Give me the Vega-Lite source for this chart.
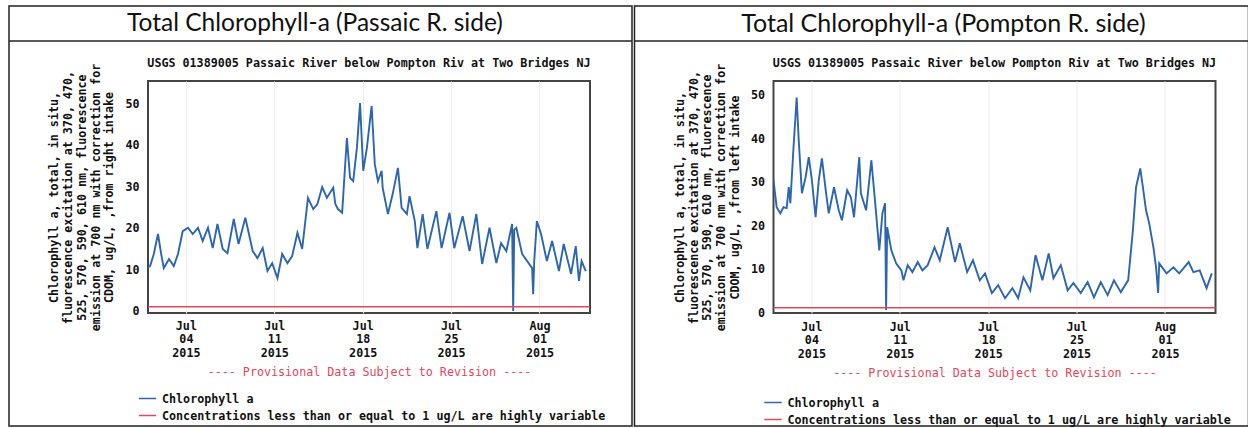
{
  "$schema": "https://vega.github.io/schema/vega-lite/v6.json",
  "padding": {"left": 7, "top": 4, "right": 0, "bottom": 0},
  "background": "white",
  "spacing": -1.5,
  "config": {
    "view": {"stroke": "#444", "strokeWidth": 2},
    "font": "DejaVu Sans Mono"
  },
  "resolve": {"scale": {"x": "independent", "y": "independent", "color": "independent"}, "legend": {"color": "independent"}},
  "datasets": {
    "one": [{}],
    "left": [
      {"t":"2015-07-01T00:00","v":10.5},{"t":"2015-07-01T04:00","v":10.8},{"t":"2015-07-01T11:00","v":13.7},{"t":"2015-07-01T19:00","v":18.5},
      {"t":"2015-07-02T01:00","v":13.7},{"t":"2015-07-02T06:00","v":10.3},{"t":"2015-07-02T16:00","v":12.5},{"t":"2015-07-03T01:00","v":10.8},
      {"t":"2015-07-03T09:00","v":13.7},{"t":"2015-07-03T18:00","v":19.2},{"t":"2015-07-04T04:00","v":20.0},{"t":"2015-07-04T13:00","v":18.5},
      {"t":"2015-07-04T23:00","v":20.0},{"t":"2015-07-05T08:00","v":16.8},{"t":"2015-07-05T18:00","v":20.0},{"t":"2015-07-06T03:00","v":15.1},
      {"t":"2015-07-06T12:00","v":20.9},{"t":"2015-07-06T22:00","v":14.9},{"t":"2015-07-07T07:00","v":13.9},{"t":"2015-07-07T19:00","v":22.1},
      {"t":"2015-07-08T04:00","v":16.1},{"t":"2015-07-08T17:00","v":22.4},{"t":"2015-07-09T07:00","v":14.4},{"t":"2015-07-09T16:00","v":12.7},
      {"t":"2015-07-10T02:00","v":15.1},{"t":"2015-07-10T11:00","v":9.6},{"t":"2015-07-10T20:00","v":11.5},{"t":"2015-07-11T06:00","v":7.9},
      {"t":"2015-07-11T15:00","v":13.7},{"t":"2015-07-12T01:00","v":11.5},{"t":"2015-07-12T10:00","v":13.2},{"t":"2015-07-12T20:00","v":18.8},
      {"t":"2015-07-13T05:00","v":14.9},{"t":"2015-07-13T16:00","v":27.2},{"t":"2015-07-14T02:00","v":24.5},{"t":"2015-07-14T10:00","v":25.7},
      {"t":"2015-07-14T19:00","v":29.8},{"t":"2015-07-15T04:00","v":27.2},{"t":"2015-07-15T16:00","v":29.6},{"t":"2015-07-15T20:00","v":25.7},
      {"t":"2015-07-16T01:00","v":24.5},{"t":"2015-07-16T09:00","v":23.6},{"t":"2015-07-16T14:00","v":33.7},{"t":"2015-07-16T18:00","v":41.6},
      {"t":"2015-07-17T00:00","v":32.0},{"t":"2015-07-17T06:00","v":31.2},{"t":"2015-07-17T13:00","v":39.2},{"t":"2015-07-17T19:00","v":50.0},
      {"t":"2015-07-18T01:00","v":33.7},{"t":"2015-07-18T08:00","v":39.2},{"t":"2015-07-18T17:00","v":49.3},{"t":"2015-07-18T23:00","v":35.3},
      {"t":"2015-07-19T05:00","v":31.2},{"t":"2015-07-19T12:00","v":33.7},{"t":"2015-07-19T14:00","v":29.6},{"t":"2015-07-20T00:00","v":23.3},
      {"t":"2015-07-20T09:00","v":28.1},{"t":"2015-07-20T19:00","v":34.4},{"t":"2015-07-21T02:00","v":24.8},{"t":"2015-07-21T12:00","v":23.3},
      {"t":"2015-07-21T17:00","v":27.6},{"t":"2015-07-22T03:00","v":21.6},{"t":"2015-07-22T08:00","v":15.1},{"t":"2015-07-22T18:00","v":23.3},
      {"t":"2015-07-23T03:00","v":14.9},{"t":"2015-07-23T20:00","v":24.0},{"t":"2015-07-24T06:00","v":15.1},{"t":"2015-07-24T21:00","v":23.6},
      {"t":"2015-07-25T06:00","v":15.1},{"t":"2015-07-25T22:00","v":22.8},{"t":"2015-07-26T11:00","v":14.4},{"t":"2015-07-27T00:00","v":23.3},
      {"t":"2015-07-27T11:00","v":11.3},{"t":"2015-07-28T01:00","v":20.0},{"t":"2015-07-28T14:00","v":11.5},{"t":"2015-07-28T23:00","v":16.3},
      {"t":"2015-07-29T09:00","v":14.4},{"t":"2015-07-29T20:00","v":20.9},{"t":"2015-07-29T22:00","v":0.0},{"t":"2015-07-30T00:00","v":19.5},
      {"t":"2015-07-30T04:00","v":20.0},{"t":"2015-07-30T15:00","v":13.7},{"t":"2015-07-31T10:00","v":10.3},{"t":"2015-07-31T12:00","v":4.0},
      {"t":"2015-07-31T14:00","v":12.0},{"t":"2015-07-31T19:00","v":21.6},{"t":"2015-08-01T03:00","v":18.5},{"t":"2015-08-01T14:00","v":12.0},
      {"t":"2015-08-02T00:00","v":16.8},{"t":"2015-08-02T13:00","v":9.6},{"t":"2015-08-02T22:00","v":16.1},{"t":"2015-08-03T12:00","v":8.9},
      {"t":"2015-08-03T21:00","v":15.6},{"t":"2015-08-04T03:00","v":7.2},{"t":"2015-08-04T08:00","v":12.0},{"t":"2015-08-04T16:00","v":9.6}
    ],
    "right": [
      {"t":"2015-07-01T00:00","v":30.3},{"t":"2015-07-01T06:00","v":24.1},{"t":"2015-07-01T13:00","v":22.7},{"t":"2015-07-01T19:00","v":24.1},
      {"t":"2015-07-02T01:00","v":23.9},{"t":"2015-07-02T05:00","v":28.7},{"t":"2015-07-02T08:00","v":25.0},{"t":"2015-07-02T14:00","v":37.8},
      {"t":"2015-07-02T20:00","v":49.3},{"t":"2015-07-03T00:00","v":39.4},{"t":"2015-07-03T06:00","v":27.3},{"t":"2015-07-03T13:00","v":31.0},
      {"t":"2015-07-03T19:00","v":35.6},{"t":"2015-07-04T01:00","v":30.3},{"t":"2015-07-04T08:00","v":21.8},{"t":"2015-07-04T14:00","v":30.3},
      {"t":"2015-07-04T20:00","v":35.3},{"t":"2015-07-05T04:00","v":27.3},{"t":"2015-07-05T09:00","v":22.7},{"t":"2015-07-05T19:00","v":28.7},
      {"t":"2015-07-06T04:00","v":23.4},{"t":"2015-07-06T10:00","v":21.1},{"t":"2015-07-06T20:00","v":28.0},{"t":"2015-07-07T03:00","v":26.4},
      {"t":"2015-07-07T09:00","v":21.8},{"t":"2015-07-07T19:00","v":35.6},{"t":"2015-07-07T22:00","v":27.3},{"t":"2015-07-08T08:00","v":23.4},
      {"t":"2015-07-08T18:00","v":34.9},{"t":"2015-07-09T03:00","v":22.7},{"t":"2015-07-09T09:00","v":14.2},{"t":"2015-07-09T15:00","v":22.7},
      {"t":"2015-07-09T20:00","v":25.0},{"t":"2015-07-09T22:00","v":0.5},{"t":"2015-07-10T00:00","v":19.5},{"t":"2015-07-10T08:00","v":14.2},
      {"t":"2015-07-10T17:00","v":11.2},{"t":"2015-07-11T03:00","v":9.6},{"t":"2015-07-11T07:00","v":7.3},{"t":"2015-07-11T15:00","v":10.8},
      {"t":"2015-07-12T00:00","v":9.2},{"t":"2015-07-12T10:00","v":11.5},{"t":"2015-07-12T19:00","v":9.6},{"t":"2015-07-13T05:00","v":10.8},
      {"t":"2015-07-13T18:00","v":14.9},{"t":"2015-07-14T04:00","v":11.9},{"t":"2015-07-14T19:00","v":19.5},{"t":"2015-07-15T09:00","v":11.5},
      {"t":"2015-07-15T18:00","v":15.8},{"t":"2015-07-16T08:00","v":9.2},{"t":"2015-07-16T19:00","v":11.9},{"t":"2015-07-17T08:00","v":7.3},
      {"t":"2015-07-17T18:00","v":8.9},{"t":"2015-07-18T07:00","v":4.4},{"t":"2015-07-18T19:00","v":6.2},{"t":"2015-07-19T08:00","v":3.2},
      {"t":"2015-07-19T22:00","v":5.5},{"t":"2015-07-20T09:00","v":3.2},{"t":"2015-07-20T19:00","v":8.0},{"t":"2015-07-21T08:00","v":5.0},
      {"t":"2015-07-21T18:00","v":13.1},{"t":"2015-07-22T07:00","v":7.3},{"t":"2015-07-22T19:00","v":13.5},{"t":"2015-07-23T04:00","v":7.8},
      {"t":"2015-07-23T18:00","v":10.8},{"t":"2015-07-24T07:00","v":5.0},{"t":"2015-07-24T18:00","v":6.7},{"t":"2015-07-25T08:00","v":4.4},
      {"t":"2015-07-25T21:00","v":6.9},{"t":"2015-07-26T09:00","v":3.4},{"t":"2015-07-26T22:00","v":6.9},{"t":"2015-07-27T11:00","v":3.9},
      {"t":"2015-07-27T23:00","v":7.3},{"t":"2015-07-28T12:00","v":4.6},{"t":"2015-07-29T02:00","v":7.3},{"t":"2015-07-29T11:00","v":18.8},
      {"t":"2015-07-29T17:00","v":28.7},{"t":"2015-07-30T01:00","v":33.0},{"t":"2015-07-30T06:00","v":28.7},{"t":"2015-07-30T12:00","v":23.4},
      {"t":"2015-07-30T18:00","v":20.4},{"t":"2015-07-31T02:00","v":14.9},{"t":"2015-07-31T07:00","v":10.3},{"t":"2015-07-31T11:00","v":4.4},
      {"t":"2015-07-31T13:00","v":11.2},{"t":"2015-08-01T03:00","v":8.9},{"t":"2015-08-01T16:00","v":10.3},{"t":"2015-08-02T03:00","v":8.9},
      {"t":"2015-08-02T21:00","v":11.5},{"t":"2015-08-03T06:00","v":9.2},{"t":"2015-08-03T18:00","v":9.6},{"t":"2015-08-04T07:00","v":5.5},
      {"t":"2015-08-04T17:00","v":8.9}
    ]
  },
  "hconcat": [
    {
      "width": 442,
      "height": 232,
      "layer": [
        {
          "data": {"name": "left"},
          "mark": {"type": "line", "strokeWidth": 1.9, "clip": true},
          "encoding": {
            "x": {
              "field": "t", "type": "temporal",
              "scale": {"domain": [{"year": 2015, "month": 7, "date": 1}, {"year": 2015, "month": 8, "date": 5}], "nice": false},
              "axis": {
                "title": "---- Provisional Data Subject to Revision ----",
                "titleColor": "#e8455a", "titleFont": "DejaVu Sans Mono", "titleFontSize": 11.7, "titleFontWeight": "normal", "titlePadding": 8,
                "values": [{"year": 2015, "month": 7, "date": 4}, {"year": 2015, "month": 7, "date": 11}, {"year": 2015, "month": 7, "date": 18}, {"year": 2015, "month": 7, "date": 25}, {"year": 2015, "month": 8, "date": 1}],
                "labelExpr": "[timeFormat(datum.value, '%b'), timeFormat(datum.value, '%d'), timeFormat(datum.value, '%Y')]",
                "labelFont": "DejaVu Sans Mono", "labelFontWeight": "bold", "labelFontSize": 11.7, "labelLineHeight": 13.5, "labelColor": "#111",
                "labelPadding": 7, "ticks": false, "domain": false, "grid": true, "gridColor": "#ececec", "labelOverlap": false
              }
            },
            "y": {
              "field": "v", "type": "quantitative",
              "scale": {"domain": [-0.5, 55.3], "nice": false, "zero": false},
              "axis": {
                "title": ["Chlorophyll a, total, in situ,", "fluorescence excitation at 370, 470,", "525, 570, 590, 610 nm, fluorescence", "emission at 700 nm with correction for", "CDOM, ug/L, ,from right intake"],
                "titleFont": "DejaVu Sans Mono", "titleFontWeight": "bold", "titleFontSize": 11.7, "titleLineHeight": 13.8, "titlePadding": 10, "titleColor": "#111",
                "values": [0, 10, 20, 30, 40, 50],
                "labelFont": "DejaVu Sans Mono", "labelFontWeight": "bold", "labelFontSize": 11.7, "labelColor": "#111", "labelPadding": 9,
                "ticks": false, "domain": false, "grid": false
              }
            },
            "color": {
              "datum": "Chlorophyll a", "type": "nominal",
              "scale": {"domain": ["Chlorophyll a", "Concentrations less than or equal to 1 ug/L are highly variable"], "range": ["#2c66ae", "#e5475a"]},
              "legend": {
                "orient": "none", "legendX": -10, "legendY": 308, "title": null, "direction": "vertical",
                "symbolType": "stroke", "symbolSize": 300, "symbolStrokeWidth": 1.5, "rowPadding": 0, "labelOffset": 5,
                "labelFont": "DejaVu Sans Mono", "labelFontWeight": "bold", "labelFontSize": 11.7, "labelColor": "#111", "labelLimit": 0
              }
            }
          }
        },
        {
          "data": {"name": "one"},
          "mark": {"type": "rule", "strokeWidth": 1.5},
          "encoding": {
            "y": {"datum": 1, "type": "quantitative"},
            "color": {"datum": "Concentrations less than or equal to 1 ug/L are highly variable", "type": "nominal"}
          }
        },
        {
          "data": {"name": "one"},
          "mark": {"type": "rect", "fill": null, "stroke": "#222", "strokeWidth": 1.5, "clip": false},
          "encoding": {
            "x": {"datum": {"year": 2015, "month": 6, "date": 19, "hours": 23, "minutes": 50}, "type": "temporal"},
            "x2": {"datum": {"year": 2015, "month": 8, "date": 8, "hours": 7, "minutes": 49}},
            "y": {"datum": 73.34, "type": "quantitative"},
            "y2": {"datum": -27.68}
          }
        },
        {
          "data": {"name": "one"},
          "mark": {"type": "rule", "stroke": "#222", "strokeWidth": 1.5, "clip": false},
          "encoding": {
            "x": {"datum": {"year": 2015, "month": 6, "date": 19, "hours": 23, "minutes": 50}, "type": "temporal"},
            "x2": {"datum": {"year": 2015, "month": 8, "date": 8, "hours": 7, "minutes": 49}},
            "y": {"datum": 64.92, "type": "quantitative"}
          }
        },
        {
          "data": {"name": "one"},
          "mark": {"type": "text", "text": "Total Chlorophyll-a (Passaic R. side)", "font": "Lato", "fontSize": 24.5, "color": "#111", "baseline": "middle", "align": "center", "clip": false},
          "encoding": {
            "x": {"datum": {"year": 2015, "month": 7, "date": 14, "hours": 5, "minutes": 20}, "type": "temporal"},
            "y": {"datum": 69.0, "type": "quantitative"}
          }
        },
        {
          "data": {"name": "one"},
          "mark": {"type": "text", "text": "USGS 01389005 Passaic River below Pompton Riv at Two Bridges NJ", "font": "DejaVu Sans Mono", "fontWeight": "bold", "fontSize": 11.7, "color": "#111", "baseline": "middle", "align": "center", "clip": false},
          "encoding": {
            "x": {"datum": {"year": 2015, "month": 7, "date": 18, "hours": 12}, "type": "temporal"},
            "y": {"datum": 59.63, "type": "quantitative"}
          }
        }
      ]
    },
    {
      "width": 442,
      "height": 232,
      "layer": [
        {
          "data": {"name": "right"},
          "mark": {"type": "line", "strokeWidth": 1.9, "clip": true},
          "encoding": {
            "x": {
              "field": "t", "type": "temporal",
              "scale": {"domain": [{"year": 2015, "month": 7, "date": 1}, {"year": 2015, "month": 8, "date": 5}], "nice": false},
              "axis": {
                "title": "---- Provisional Data Subject to Revision ----",
                "titleColor": "#e8455a", "titleFont": "DejaVu Sans Mono", "titleFontSize": 11.7, "titleFontWeight": "normal", "titlePadding": 8,
                "values": [{"year": 2015, "month": 7, "date": 4}, {"year": 2015, "month": 7, "date": 11}, {"year": 2015, "month": 7, "date": 18}, {"year": 2015, "month": 7, "date": 25}, {"year": 2015, "month": 8, "date": 1}],
                "labelExpr": "[timeFormat(datum.value, '%b'), timeFormat(datum.value, '%d'), timeFormat(datum.value, '%Y')]",
                "labelFont": "DejaVu Sans Mono", "labelFontWeight": "bold", "labelFontSize": 11.7, "labelLineHeight": 13.5, "labelColor": "#111",
                "labelPadding": 8, "ticks": false, "domain": false, "grid": true, "gridColor": "#ececec", "labelOverlap": false
              }
            },
            "y": {
              "field": "v", "type": "quantitative",
              "scale": {"domain": [-0.2, 53.1], "nice": false, "zero": false},
              "axis": {
                "title": ["Chlorophyll a, total, in situ,", "fluorescence excitation at 370, 470,", "525, 570, 590, 610 nm, fluorescence", "emission at 700 nm with correction for", "CDOM, ug/L, ,from left intake"],
                "titleFont": "DejaVu Sans Mono", "titleFontWeight": "bold", "titleFontSize": 11.7, "titleLineHeight": 13.8, "titlePadding": 10, "titleColor": "#111",
                "values": [0, 10, 20, 30, 40, 50],
                "labelFont": "DejaVu Sans Mono", "labelFontWeight": "bold", "labelFontSize": 11.7, "labelColor": "#111", "labelPadding": 9,
                "ticks": false, "domain": false, "grid": false
              }
            },
            "color": {
              "datum": "Chlorophyll a", "type": "nominal",
              "scale": {"domain": ["Chlorophyll a", "Concentrations less than or equal to 1 ug/L are highly variable"], "range": ["#2c66ae", "#e5475a"]},
              "legend": {
                "orient": "none", "legendX": -10, "legendY": 312, "title": null, "direction": "vertical",
                "symbolType": "stroke", "symbolSize": 300, "symbolStrokeWidth": 1.5, "rowPadding": 0, "labelOffset": 5,
                "labelFont": "DejaVu Sans Mono", "labelFontWeight": "bold", "labelFontSize": 11.7, "labelColor": "#111", "labelLimit": 0
              }
            }
          }
        },
        {
          "data": {"name": "one"},
          "mark": {"type": "rule", "strokeWidth": 1.5},
          "encoding": {
            "y": {"datum": 1, "type": "quantitative"},
            "color": {"datum": "Concentrations less than or equal to 1 ug/L are highly variable", "type": "nominal"}
          }
        },
        {
          "data": {"name": "one"},
          "mark": {"type": "rect", "fill": null, "stroke": "#222", "strokeWidth": 1.5, "clip": false},
          "encoding": {
            "x": {"datum": {"year": 2015, "month": 6, "date": 19, "hours": 23, "minutes": 50}, "type": "temporal"},
            "x2": {"datum": {"year": 2015, "month": 8, "date": 7, "hours": 14, "minutes": 40}},
            "y": {"datum": 70.33, "type": "quantitative"},
            "y2": {"datum": -26.16}
          }
        },
        {
          "data": {"name": "one"},
          "mark": {"type": "rule", "stroke": "#222", "strokeWidth": 1.5, "clip": false},
          "encoding": {
            "x": {"datum": {"year": 2015, "month": 6, "date": 19, "hours": 23, "minutes": 50}, "type": "temporal"},
            "x2": {"datum": {"year": 2015, "month": 8, "date": 7, "hours": 14, "minutes": 40}},
            "y": {"datum": 62.29, "type": "quantitative"}
          }
        },
        {
          "data": {"name": "one"},
          "mark": {"type": "text", "text": "Total Chlorophyll-a (Pompton R. side)", "font": "Lato", "fontSize": 25, "color": "#111", "baseline": "middle", "align": "center", "clip": false},
          "encoding": {
            "x": {"datum": {"year": 2015, "month": 7, "date": 14, "hours": 11}, "type": "temporal"},
            "y": {"datum": 66.22, "type": "quantitative"}
          }
        },
        {
          "data": {"name": "one"},
          "mark": {"type": "text", "text": "USGS 01389005 Passaic River below Pompton Riv at Two Bridges NJ", "font": "DejaVu Sans Mono", "fontWeight": "bold", "fontSize": 11.7, "color": "#111", "baseline": "middle", "align": "center", "clip": false},
          "encoding": {
            "x": {"datum": {"year": 2015, "month": 7, "date": 18, "hours": 12}, "type": "temporal"},
            "y": {"datum": 57.24, "type": "quantitative"}
          }
        }
      ]
    }
  ]
}
